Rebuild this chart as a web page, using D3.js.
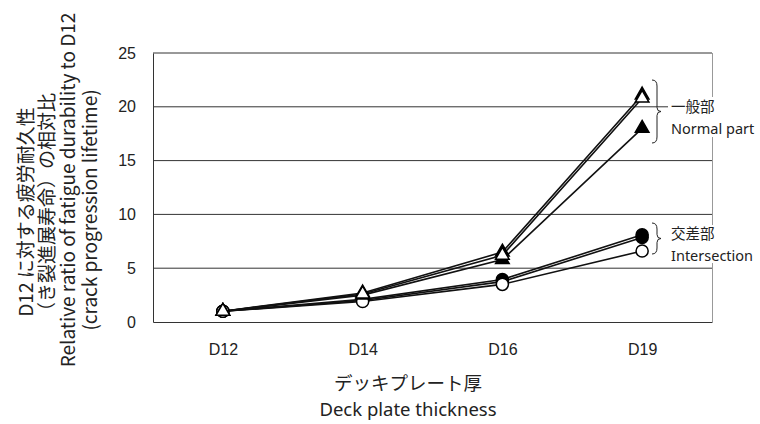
<!DOCTYPE html>
<html><head><meta charset="utf-8">
<script src="https://cdn.jsdelivr.net/npm/d3@7"></script>
<style>body{margin:0;background:#fff}svg{display:block}</style>
</head><body><svg id="c" width="760" height="424"></svg>
<script>
const categories = ["D12","D14","D16","D19"];
const yTicks = [0,5,10,15,20,25];
// Normal part (triangles)
const normalFilledA = [1, 2.7, 6.5, 21.1];
const normalOpen    = [1, 2.6, 6.2, 20.8];
const normalFilledB = [1, 2.5, 5.8, 18.0];
// Intersection (circles)
const interFilledA = [1, 2.1, 3.95, 8.1];
const interFilledB = [1, 2.0, 3.75, 7.85];
const interOpen    = [1, 1.9, 3.5, 6.6];

const series = [
  {v: interFilledB, shape: "circ", fill: "#000"},
  {v: interFilledA, shape: "circ", fill: "#000"},
  {v: interOpen, shape: "circ", fill: "#fff"},
  {v: normalFilledB, shape: "tri", fill: "#000"},
  {v: normalFilledA, shape: "tri", fill: "#000"},
  {v: normalOpen, shape: "tri", fill: "#fff"}
];

const svg = d3.select("#c");
const L = 153, R = 712, T = 53, B = 322;
const x = d3.scalePoint().domain(categories).range([L, R]).padding(0.5);
const y = d3.scaleLinear().domain([0, 25]).range([B, T]);
const tickFont = "'Liberation Sans', Arial, sans-serif";
const jpFont = "'Noto Sans CJK JP', 'Noto Sans', sans-serif";
const enFont = "'Noto Sans', 'Noto Sans CJK JP', sans-serif";

// gridlines
svg.append("g").selectAll("line").data(yTicks.filter(d => d > 0)).join("line")
  .attr("x1", L).attr("x2", R).attr("y1", d => y(d)).attr("y2", d => y(d))
  .attr("stroke", "#333").attr("stroke-width", 1);
// right border
svg.append("line").attr("x1", R + 0.5).attr("x2", R + 0.5).attr("y1", T).attr("y2", B)
  .attr("stroke", "#999").attr("stroke-width", 1);

// axes
const yAxis = d3.axisLeft(y).tickValues(yTicks).tickSize(0).tickPadding(17);
const gy = svg.append("g").attr("transform", `translate(${L},0)`).call(yAxis);
gy.select(".domain").attr("stroke", "#333").attr("stroke-width", 1);
gy.selectAll("text").attr("font-family", tickFont).attr("font-size", 16).attr("fill", "#222");

const xAxis = d3.axisBottom(x).tickSize(0).tickPadding(22);
const gx = svg.append("g").attr("transform", `translate(0,${B})`).call(xAxis);
gx.select(".domain").attr("stroke", "#333").attr("stroke-width", 1.2);
gx.selectAll("text").attr("font-family", tickFont).attr("font-size", 16).attr("fill", "#222");

// lines
const line = d3.line().x((d, i) => x(categories[i])).y(d => y(d));
svg.append("g").selectAll("path").data(series).join("path")
  .attr("d", s => line(s.v)).attr("fill", "none").attr("stroke", "#111").attr("stroke-width", 1.6);

// markers
const triSym = d3.symbol().type(d3.symbolTriangle).size(80);
const circSym = d3.symbol().type(d3.symbolCircle).size(115);
series.forEach(s => {
  svg.append("g").selectAll("path").data(s.v).join("path")
    .attr("transform", (d, i) => `translate(${x(categories[i])},${y(d)})`)
    .attr("d", s.shape === "tri" ? triSym() : circSym())
    .attr("fill", s.fill).attr("stroke", "#000").attr("stroke-width", 1.5);
});

// annotations
function brace(y0, y1, xb) {
  const m = (y0 + y1) / 2, w = 5;
  return `M${xb},${y0} Q${xb + w},${y0} ${xb + w},${y0 + 6} L${xb + w},${m - 4} Q${xb + w},${m} ${xb + w + 4},${m}` +
         ` Q${xb + w},${m} ${xb + w},${m + 4} L${xb + w},${y1 - 6} Q${xb + w},${y1} ${xb},${y1}`;
}
const ann = svg.append("g");
ann.append("rect").attr("x", 668).attr("y", 97).attr("width", 92).attr("height", 40).attr("fill", "#fff");
ann.append("rect").attr("x", 668).attr("y", 225).attr("width", 92).attr("height", 38).attr("fill", "#fff");
ann.append("path").attr("d", brace(80, 143, 652)).attr("fill", "none").attr("stroke", "#222").attr("stroke-width", 1);
ann.append("path").attr("d", brace(223, 254, 652)).attr("fill", "none").attr("stroke", "#222").attr("stroke-width", 1);
const annLabels = [["一般部", 112, jpFont], ["Normal part", 134, enFont], ["交差部", 239, jpFont], ["Intersection", 261, enFont]];
ann.selectAll("text").data(annLabels).join("text")
  .attr("x", 671).attr("y", d => d[1]).text(d => d[0])
  .attr("font-family", d => d[2]).attr("font-size", 14.5).attr("fill", "#222");

// x title
svg.append("text").attr("x", 408).attr("y", 390).attr("text-anchor", "middle")
  .attr("font-family", jpFont).attr("font-size", 18.5).attr("fill", "#222").text("デッキプレート厚");
svg.append("text").attr("x", 408).attr("y", 416).attr("text-anchor", "middle")
  .attr("font-family", enFont).attr("font-size", 18.5).attr("fill", "#222").text("Deck plate thickness");

// y title
const yTitle = [["D12 に対する疲労耐久性", 33, 212], ["（き裂進展寿命）の相対比", 54, 207], ["Relative ratio of fatigue durability to D12", 75, 190], ["(crack progression lifetime)", 97, 210]];
yTitle.forEach(([t, cx, cy]) => {
  svg.append("text").attr("transform", `translate(${cx},${cy}) rotate(-90)`).attr("text-anchor", "middle")
    .attr("font-family", jpFont).attr("font-size", 19).attr("fill", "#222").text(t);
});
</script></body></html>
